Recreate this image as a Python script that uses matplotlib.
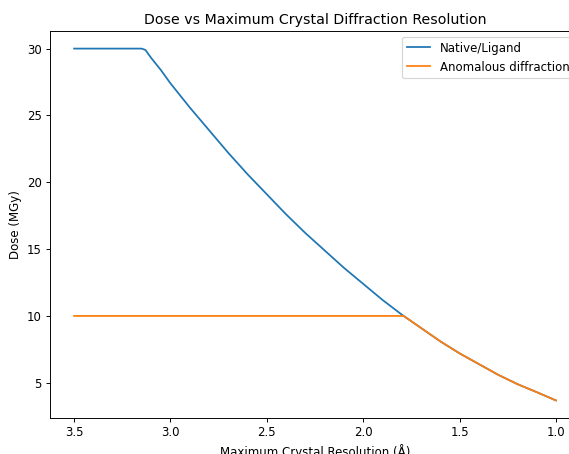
import matplotlib
matplotlib.use("Agg")
import matplotlib.pyplot as plt

# resolution (A) and dose (MGy)
native_res = [3.5, 3.4, 3.3, 3.2, 3.15, 3.13, 3.1, 3.05, 3.0, 2.9, 2.8, 2.7, 2.6, 2.5, 2.4, 2.3,
              2.2, 2.1, 2.0, 1.9, 1.8, 1.79, 1.7, 1.6, 1.5, 1.4, 1.3, 1.2, 1.1, 1.0]
native_dose = [30, 30, 30, 30, 30, 29.9, 29.3, 28.4, 27.4, 25.6, 23.9, 22.2, 20.6, 19.1, 17.6, 16.2,
               14.9, 13.6, 12.4, 11.2, 10.1, 10.0, 9.1, 8.1, 7.2, 6.4, 5.6, 4.9, 4.3, 3.68]

anom_res = [3.5, 3.0, 2.5, 2.0, 1.79, 1.7, 1.6, 1.5, 1.4, 1.3, 1.2, 1.1, 1.0]
anom_dose = [10, 10, 10, 10, 10.0, 9.1, 8.1, 7.2, 6.4, 5.6, 4.9, 4.3, 3.68]

DPI = 85  # reference looks like a scaled-down default figure
fig = plt.figure(figsize=(569 / DPI, 454 / DPI), dpi=DPI)
# axes run past the right edge, the picture is cropped there
ax = fig.add_axes([50 / 569, 36 / 454, 530 / 569, 387 / 454])

ax.plot(native_res, native_dose, label="Native/Ligand")
ax.plot(anom_res, anom_dose, label="Anomalous diffraction")
ax.invert_xaxis()

ax.set_title("Dose vs Maximum Crystal Diffraction Resolution")
ax.set_xlabel("Maximum Crystal Resolution (Å)")
ax.set_ylabel("Dose (MGy)")
ax.legend(loc="upper right")

fig.savefig("out.png", dpi=DPI)
